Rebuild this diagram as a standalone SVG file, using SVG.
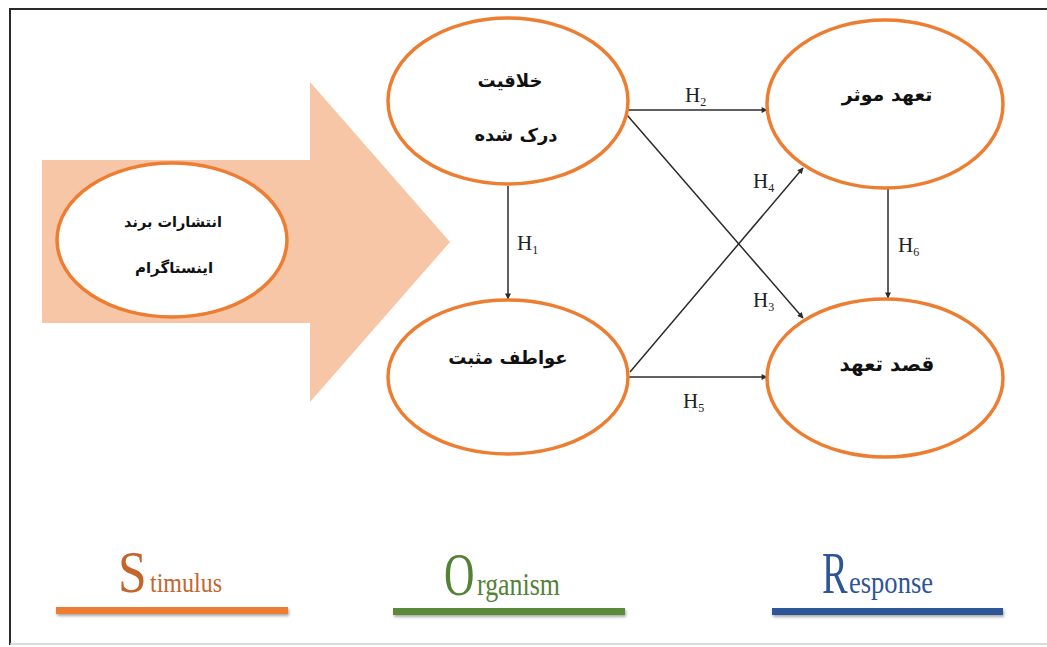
<svg xmlns="http://www.w3.org/2000/svg" width="1047" height="647" viewBox="0 0 1047 647">
  <defs>
    <style>
      .node { fill: #ffffff; stroke: #ED7D31; stroke-width: 3.5; }
      .fa { font-family: "DejaVu Sans", "Noto Sans", sans-serif; font-weight: bold; fill: #111; text-anchor: middle; }
      .h { font-family: "Liberation Serif", serif; font-size: 21px; fill: #222; }
      .sub { font-size: 12px; }
      .conn { stroke: #2b2b2b; stroke-width: 1.5; fill: none; marker-end: url(#arr); }
      .big { font-family: "Liberation Serif", serif; }
    </style>
    <marker id="arr" viewBox="0 0 10 10" refX="9" refY="5" markerWidth="7" markerHeight="6" markerUnits="userSpaceOnUse" orient="auto">
      <path d="M0,0 L10,5 L0,10 z" fill="#2b2b2b"/>
    </marker>
    <filter id="shadow" x="-5%" y="-100%" width="110%" height="300%">
      <feGaussianBlur in="SourceAlpha" stdDeviation="1.5"/>
      <feOffset dx="1" dy="2" result="b"/>
      <feComponentTransfer><feFuncA type="linear" slope="0.35"/></feComponentTransfer>
      <feMerge><feMergeNode/><feMergeNode in="SourceGraphic"/></feMerge>
    </filter>
  </defs>

  <rect x="0" y="0" width="1047" height="647" fill="#ffffff"/>

  <!-- frame -->
  <g id="frame">
    <line x1="10" y1="9" x2="1047" y2="9" stroke="#2a2a2a" stroke-width="2"/>
    <line x1="10" y1="8" x2="10" y2="645" stroke="#2a2a2a" stroke-width="2"/>
    <line x1="10" y1="644" x2="1047" y2="644" stroke="#cfcfcf" stroke-width="1.5"/>
  </g>

  <!-- big stimulus arrow -->
  <polygon id="stimulus-arrow" points="42,160 310,160 310,82 450,242 310,402 310,323 42,323" fill="#F7C6A6"/>

  <!-- connectors -->
  <g id="connectors">
    <line class="conn" x1="508" y1="186" x2="508" y2="299"/>
    <line class="conn" x1="628" y1="110" x2="767" y2="110"/>
    <line class="conn" x1="627" y1="115" x2="803" y2="318"/>
    <line class="conn" x1="630" y1="372" x2="803" y2="168"/>
    <line class="conn" x1="629" y1="377" x2="767" y2="377"/>
    <line class="conn" x1="888" y1="189" x2="888" y2="298"/>
  </g>

  <!-- connector labels -->
  <g id="labels">
    <text class="h" x="517" y="250">H<tspan class="sub" dy="4">1</tspan></text>
    <text class="h" x="685" y="102">H<tspan class="sub" dy="4">2</tspan></text>
    <text class="h" x="753" y="307">H<tspan class="sub" dy="4">3</tspan></text>
    <text class="h" x="753" y="188">H<tspan class="sub" dy="4">4</tspan></text>
    <text class="h" x="683" y="408">H<tspan class="sub" dy="4">5</tspan></text>
    <text class="h" x="898" y="252">H<tspan class="sub" dy="4">6</tspan></text>
  </g>

  <!-- nodes -->
  <g id="node-instagram">
    <ellipse class="node" cx="172" cy="240" rx="115" ry="77"/>
    <text class="fa" x="173" y="227" font-size="14.5">انتشارات برند</text>
    <text class="fa" x="174" y="273" font-size="15">اینستاگرام</text>
  </g>

  <g id="node-creativity">
    <ellipse class="node" cx="508" cy="101" rx="120" ry="83"/>
    <text class="fa" x="510" y="87" font-size="18">خلاقیت</text>
    <text class="fa" x="516" y="141" font-size="18">درک شده</text>
  </g>

  <g id="node-emotions">
    <ellipse class="node" cx="508" cy="377" rx="120" ry="77"/>
    <text class="fa" x="508" y="364" font-size="18">عواطف مثبت</text>
  </g>

  <g id="node-affective">
    <ellipse class="node" cx="885" cy="104" rx="118" ry="84"/>
    <text class="fa" x="887" y="101" font-size="19">تعهد موثر</text>
  </g>

  <g id="node-intention">
    <ellipse class="node" cx="885" cy="378" rx="118" ry="79"/>
    <text class="fa" x="887" y="371" font-size="20">قصد تعهد</text>
  </g>

  <!-- SOR legend -->
  <g id="legend-stimulus">
    <text class="big" transform="translate(118,592) scale(0.86,1)" font-size="60" fill="#C4652C">S</text>
    <text class="big" x="150" y="592" font-size="28" fill="#C4652C" textLength="72" lengthAdjust="spacingAndGlyphs">timulus</text>
    <rect x="56" y="607" width="232" height="7" fill="#ED7D31" filter="url(#shadow)"/>
  </g>
  <g id="legend-organism">
    <text class="big" transform="translate(444,595) scale(0.68,1)" font-size="62" fill="#548235">O</text>
    <text class="big" x="477" y="595" font-size="31" fill="#548235" textLength="83" lengthAdjust="spacingAndGlyphs">rganism</text>
    <rect x="393" y="608" width="232" height="7" fill="#5B8A3A" filter="url(#shadow)"/>
  </g>
  <g id="legend-response">
    <text class="big" transform="translate(822,593) scale(0.64,1)" font-size="60" fill="#2F5597">R</text>
    <text class="big" x="849" y="593" font-size="31" fill="#2F5597" textLength="84" lengthAdjust="spacingAndGlyphs">esponse</text>
    <rect x="772" y="608" width="231" height="7" fill="#2F5597" filter="url(#shadow)"/>
  </g>
</svg>
